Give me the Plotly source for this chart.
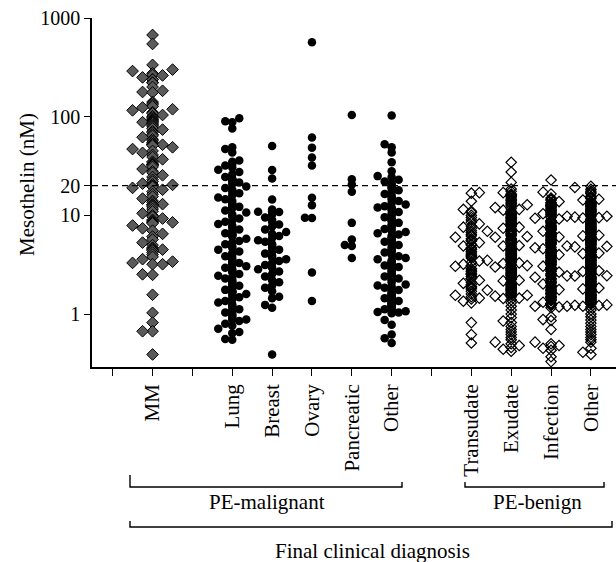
import numpy as np
import plotly.graph_objects as go

# ---------------- data ----------------
categories = ["MM", "Lung", "Breast", "Ovary", "Pancreatic", "Other",
              "Transudate", "Exudate", "Infection", "Other"]
cat_positions = [1, 3, 4, 5, 6, 7, 9, 10, 11, 12]
tick_values = list(range(13))
tick_labels = ["", "MM", "", "Lung", "Breast", "Ovary", "Pancreatic", "Other",
               "", "Transudate", "Exudate", "Infection", "Other"]
y_ticks = [1, 10, 20, 100, 1000]
cutoff = 20

mm = [673, 546, 335, 300, 290, 275, 265, 262, 250, 240, 237, 222, 220, 200, 183, 178, 176,
      141, 137, 132, 127, 124, 119, 116, 111, 108, 104, 101, 98, 95, 93, 92, 90, 88, 88, 86, 83,
      81, 79, 76, 74, 71, 69, 66, 64, 62, 59, 57, 55, 53, 52.6, 52.5, 52, 51, 49, 47, 45, 43,
      41, 39, 37, 35, 34, 33, 32.9, 32.5, 32, 31, 29.5, 28, 27, 25.5, 24.5, 23, 22, 21,
      20.6, 20.4, 20, 19.8, 19.5, 19, 18.2, 17.4, 16.4, 15.5, 14.8, 14, 13.5, 13, 12.9, 12.8,
      12.5, 12.2, 11.6, 11, 10.5, 10, 9.7, 9.3, 9, 8.8, 8.6, 8.5, 8.5, 8.3, 7.9, 7.4, 7.0, 6.5,
      6.1, 5.7, 5.3, 5.0, 4.7, 4.6, 4.5, 4.5, 4.4, 4.2, 4.0, 3.8, 3.6, 3.4, 3.3, 3.2, 3.2,
      2.53, 2.5, 1.57, 1.03, 0.82, 0.67, 0.67, 0.39]

lung = [96.6, 90, 87.7, 76, 49, 47, 43.5, 36, 35, 33, 32, 30.5, 29, 27.5, 26, 24.5, 23.5, 23,
        23, 22.8, 22.5, 21.5, 20.8, 19.6, 18.9, 18.2, 17.4, 16.8, 16, 15.2, 14.6, 14, 13.3, 12.8,
        12.5, 12.4, 12.4, 12.2, 11.8, 11.2, 10.7, 10.2, 9.8, 9.3, 8.9, 8.6, 8.2, 7.9, 7.5, 7.2,
        6.9, 6.6, 6.5, 6.4, 6.4, 6.3, 6.1, 5.8, 5.5, 5.3, 5.1, 4.9, 4.7, 4.5, 4.3, 4.15, 4.0,
        3.85, 3.7, 3.55, 3.42, 3.35, 3.3, 3.3, 3.25, 3.15, 3.05, 2.95, 2.85, 2.75, 2.65, 2.55,
        2.45, 2.38, 2.3, 2.22, 2.15, 2.08, 2.0, 1.94, 1.88, 1.82, 1.76, 1.7, 1.68, 1.68, 1.65,
        1.6, 1.54, 1.48, 1.42, 1.36, 1.31, 1.26, 1.21, 1.16, 1.12, 1.08, 1.04, 1.0, 0.97, 0.94,
        0.9, 0.88, 0.88, 0.85, 0.8, 0.76, 0.71, 0.66, 0.64, 0.56, 0.55]

breast = [50.5, 28.8, 23.7, 14.5, 11.5, 11.0, 10.9, 10.8, 10.2, 9.5, 9.0, 8.6, 8.1, 7.7, 7.2,
          6.8, 6.5, 6.2, 5.9, 5.6, 5.4, 5.1, 5.0, 4.7, 4.5, 4.3, 4.1, 3.9, 3.75, 3.6, 3.45,
          3.3, 3.15, 2.95, 2.85, 2.7, 2.55, 2.4, 2.2, 2.1, 1.95, 1.85, 1.7, 1.5, 1.45, 1.24,
          1.16, 0.39]

ovary = [568, 61.5, 48.6, 38.5, 32, 15.1, 12.7, 9.46, 9.4, 2.64, 1.36]

pancreatic = [104, 23.2, 20.6, 17.4, 8.4, 5.7, 5.0, 4.9, 3.7]

other_malignant = [103, 52.5, 49, 43.5, 34.5, 28, 25, 24.4, 23, 22, 21, 20, 19.3, 18.6, 18,
                   17.2, 16.5, 15.8, 15.2, 14.6, 14, 13.4, 12.9, 12.4, 12, 12, 11.6, 11.2,
                   10.8, 10.4, 10, 9.6, 9.3, 9.0, 8.7, 8.4, 8.1, 7.8, 7.5, 7.3, 7.0, 6.8, 6.6,
                   6.4, 6.2, 6.0, 5.8, 5.6, 5.4, 5.3, 5.2, 5.0, 4.8, 4.6, 4.4, 4.3, 4.2, 4.0,
                   3.85, 3.7, 3.6, 3.5, 3.4, 3.3, 3.2, 3.1, 3.0, 2.9, 2.8, 2.7, 2.6, 2.5, 2.45,
                   2.4, 2.3, 2.2, 2.1, 2.0, 1.95, 1.9, 1.85, 1.8, 1.75, 1.7, 1.65, 1.6, 1.57,
                   1.55, 1.5, 1.47, 1.45, 1.4, 1.38, 1.36, 1.32, 1.3, 1.28, 1.24, 1.22, 1.2,
                   1.17, 1.14, 1.12, 1.1, 1.07, 1.05, 1.04, 1.02, 0.87, 0.78, 0.62, 0.57, 0.51]

transudate = [17, 16.8, 13.9, 11.5, 11, 10.7, 10, 9.5, 9, 8.5, 8.2, 7.8, 7.4, 7, 6.7, 6.4, 6.0,
              5.8, 5.5, 5.3, 5.1, 4.9, 4.7, 4.5, 4.3, 4.0, 3.9, 3.7, 3.5, 3.35, 3.2, 3.05,
              2.9, 2.7, 2.6, 2.5, 2.4, 2.3, 2.2, 2.1, 2.0, 1.85, 1.8, 1.7, 1.6, 1.5, 1.42,
              1.35, 1.3, 0.82, 0.62, 0.51,
              7.6, 6.9, 6.2, 5.6, 5.0, 4.55, 4.15, 3.8, 3.45, 3.1, 2.8, 2.55, 2.3, 2.05, 1.9,
              1.75, 1.55, 1.45]

exudate = [34.5, 27.5, 21.6, 18.5, 17.5, 17, 16.5, 16, 15.5, 15, 14.5, 14, 13.5, 13, 12.5, 12,
           11.7, 11.3, 11, 10.7, 10.4, 10.1, 9.8, 9.5, 9.2, 9, 8.7, 8.5, 8.2, 8, 7.8, 7.6, 7.4,
           7.2, 7, 6.8, 6.6, 6.4, 6.2, 6.0, 5.85, 5.7, 5.55, 5.4, 5.25, 5.1, 4.95, 4.8, 4.65,
           4.5, 4.4, 4.3, 4.2, 4.1, 4.0, 3.9, 3.8, 3.7, 3.6, 3.5, 3.4, 3.3, 3.2, 3.1, 3.0,
           2.92, 2.84, 2.76, 2.68, 2.6, 2.52, 2.45, 2.38, 2.31, 2.24, 2.17, 2.1, 2.04, 1.98,
           1.92, 1.86, 1.8, 1.75, 1.7, 1.65, 1.6, 1.55, 1.5, 1.45, 1.4, 1.3, 1.2, 1.1, 1.0,
           0.92, 0.85, 0.82, 0.75, 0.7, 0.66, 0.62, 0.58, 0.55, 0.52, 0.5, 0.48, 0.46, 0.44,
           0.42,
           15.8, 14.2, 12.8, 11.5, 10.2, 9.6, 8.9, 8.3, 7.7, 7.3, 6.9, 6.5, 6.1, 5.8, 5.5, 5.2,
           4.9, 4.6, 4.35, 4.15, 3.95, 3.75, 3.55, 3.35, 3.15, 2.96, 2.8, 2.64, 2.48, 2.34,
           2.2, 2.07, 1.95, 1.83, 1.72, 1.62, 1.52, 1.44, 16.2, 13.2, 10.9, 9.3, 8.1, 7.1,
           6.3, 5.6, 5.0, 4.45, 4.05, 3.65, 3.25, 2.88, 2.56, 2.27, 2.0, 1.78, 1.58]

infection = [22.8, 17.2, 16.5, 15.0, 14.6, 14.2, 13.8, 13.3, 12.9, 12.5, 12.1, 11.7, 11.4, 11.0,
             10.7, 10.4, 10.1, 9.8, 9.5, 9.2, 8.9, 8.7, 8.4, 8.2, 7.9, 7.7, 7.5, 7.3, 7.1, 6.9,
             6.7, 6.5, 6.3, 6.1, 5.95, 5.8, 5.65, 5.5, 5.35, 5.2, 5.05, 4.9, 4.75, 4.6, 4.5,
             4.4, 4.3, 4.2, 4.1, 4.0, 3.9, 3.8, 3.7, 3.6, 3.5, 3.4, 3.3, 3.22, 3.14, 3.06,
             2.98, 2.9, 2.82, 2.74, 2.66, 2.58, 2.5, 2.43, 2.36, 2.29, 2.22, 2.15, 2.08, 2.02,
             1.96, 1.9, 1.84, 1.78, 1.72, 1.67, 1.62, 1.57, 1.52, 1.47, 1.42, 1.37, 1.32,
             1.28, 1.24, 1.2, 1.2, 1.18, 1.16, 0.94, 0.88, 0.86, 0.7, 0.52, 0.5, 0.48, 0.47,
             0.45, 0.43, 0.37, 0.33,
             13.5, 12.3, 11.2, 10.2, 9.35, 8.55, 7.8, 7.2, 6.6, 6.05, 5.6, 5.15, 4.7, 4.35,
             4.05, 3.75, 3.45, 3.18, 2.94, 2.7, 2.48, 2.28, 2.1, 1.93, 1.77, 1.63, 1.5, 1.39,
             1.29, 1.22, 12.7, 10.5, 8.8, 7.4, 6.2, 5.3, 4.55, 3.95, 3.35, 2.86, 2.44, 2.06,
             1.74, 1.47, 1.26]

other_benign = [19.7, 19.2, 18.4, 17.6, 17.0, 16.6, 15.6, 15.2, 14.8, 14.3, 13.9, 13.6, 13.2,
                12.9, 12.5, 12.2, 11.9, 11.6, 11.3, 11.0, 10.8, 10.5, 10.3, 10.0, 9.8, 9.6, 9.4,
                9.2, 9.0, 8.8, 8.6, 8.4, 8.2, 8.0, 7.85, 7.7, 7.55, 7.4, 7.25, 7.1, 6.95, 6.8,
                6.65, 6.5, 6.35, 6.2, 6.1, 6.0, 5.9, 5.8, 5.7, 5.6, 5.5, 5.4, 5.3, 5.2, 5.1,
                5.0, 4.9, 4.8, 4.7, 4.6, 4.5, 4.42, 4.34, 4.26, 4.18, 4.1, 4.02, 3.94, 3.86,
                3.78, 3.7, 3.62, 3.55, 3.48, 3.41, 3.34, 3.27, 3.2, 3.14, 3.08, 3.02, 2.96, 2.9,
                2.84, 2.78, 2.72, 2.66, 2.6, 2.55, 2.5, 2.45, 2.4, 2.35, 2.3, 2.25, 2.2, 2.15,
                2.1, 2.05, 2.0, 1.96, 1.92, 1.88, 1.84, 1.8, 1.76, 1.72, 1.68, 1.65, 1.62, 1.59,
                1.56, 1.53, 1.5, 1.47, 1.44, 1.41, 1.38, 1.35, 1.32, 1.3, 1.28, 1.26, 1.24,
                1.22, 1.2, 1.18, 1.1, 1.0, 0.94, 0.87, 0.81, 0.75, 0.7, 0.66, 0.62, 0.58, 0.55,
                0.52, 0.45, 0.41, 0.39,
                14.6, 13.4, 12.4, 11.4, 10.6, 9.7, 8.9, 8.1, 7.5, 6.9, 6.4, 5.95, 5.55, 5.15,
                4.85, 4.55, 4.22, 3.98, 3.74, 3.5, 3.3, 3.1, 2.92, 2.75, 2.58, 2.43, 2.28, 2.14,
                2.02, 1.9, 1.78, 1.67, 1.57, 1.48, 1.39, 1.31, 1.23, 13.0, 11.1, 9.5, 8.3, 7.2,
                6.3, 5.45, 4.75, 4.15, 3.6, 3.15, 2.7, 2.35, 2.05, 1.8, 1.55, 1.35]

groups = [mm, lung, breast, ovary, pancreatic, other_malignant,
          transudate, exudate, infection, other_benign]
group_kind = ["mm", "mal", "mal", "mal", "mal", "mal", "ben", "ben", "ben", "ben"]

# ---------------- layout geometry ----------------
W, H = 616, 562
ML, MR, MT, MB = 92, 0, 18, 195
x_range = [-0.52, 12.63]
y_range = [-0.536, 3.0]  # log10 units
plot_w = W - ML - MR
plot_h = H - MT - MB
px_per_x = plot_w / (x_range[1] - x_range[0])
px_per_dec = plot_h / (y_range[1] - y_range[0])

styles = {
    "mm": dict(symbol="diamond", size=9, color="#5a5a5a", line=dict(color="black", width=1),
               step=10, diam=11, spacing={0: 0.5, 1: 1.3, 2: 3.4}),
    "mal": dict(symbol="circle", size=8.5, color="black", line=dict(color="black", width=0),
                step=7, diam=8, spacing={0: 0.6, 1: 1.3, 2: 3.2}),
    "ben": dict(symbol="diamond-open", size=8, color="black",
                line=dict(color="black", width=1.2), step=8, diam=9,
                spacing={0: 0.25, 1: 1.9, 2: 3.2}),
}


def beeswarm(values, diam, step, spacing):
    """Greedy column layout in pixel space; overflow goes to the centre column.
    Returns x offsets in axis units."""
    vals = np.asarray(values, dtype=float)
    ypx = np.log10(vals) * px_per_dec
    order = np.argsort(vals, kind="stable")
    slots = [0, -1, 1, -2, 2]
    last = {s: -1e9 for s in slots}
    offs = np.zeros(len(vals))
    for i in order:
        y = ypx[i]
        chosen = 0
        for s in slots:
            if y - last[s] >= spacing[abs(s)] * diam:
                chosen = s
                break
        last[chosen] = y
        offs[i] = chosen * step / px_per_x
    return offs


fig = go.Figure()
for vals, pos, kind, name in zip(groups, cat_positions, group_kind, categories):
    st = styles[kind]
    offs = beeswarm(vals, st["diam"], st["step"], st["spacing"])
    fig.add_trace(go.Scatter(
        x=pos + offs, y=vals, mode="markers", name=name, showlegend=False,
        marker=dict(symbol=st["symbol"], size=st["size"], color=st["color"], line=st["line"]),
        hoverinfo="y",
    ))

font_family = "Liberation Serif"
fig.update_layout(
    width=W, height=H,
    margin=dict(l=ML, r=MR, t=MT, b=MB),
    paper_bgcolor="white", plot_bgcolor="white",
    font=dict(family=font_family, size=21, color="black"),
    xaxis=dict(range=x_range, tickmode="array", tickvals=tick_values, ticktext=tick_labels,
               tickangle=-90, ticks="outside", ticklen=7, tickwidth=1.3, tickcolor="black",
               showline=True, linecolor="black", linewidth=1.5, showgrid=False,
               zeroline=False, tickfont=dict(size=21, family=font_family)),
    yaxis=dict(type="log", range=y_range, tickmode="array", tickvals=y_ticks,
               ticktext=[str(t) for t in y_ticks], ticks="outside", ticklen=6, tickwidth=1.3,
               tickcolor="black", showline=True, linecolor="black", linewidth=1.5,
               showgrid=False, zeroline=False, tickfont=dict(size=20, family=font_family)),
)

# dashed cut-off line
fig.add_shape(type="line", xref="paper", yref="y", x0=0, x1=1, y0=cutoff, y1=cutoff,
              line=dict(color="black", width=1.2, dash="6px,4px"))


def yp(pix):
    return (H - MB - pix) / plot_h


def xd(pix):
    return x_range[0] + (pix - ML) / px_per_x


def bracket(xl, xr, yline, ytl, ytr):
    fig.add_shape(type="path", xref="x", yref="paper",
                  path=f"M {xl},{ytl} L {xl},{yline} L {xr},{yline} L {xr},{ytr}",
                  line=dict(color="black", width=1.4))


bracket(xd(130), xd(402), yp(487), yp(475), yp(482))
bracket(xd(465), xd(604), yp(487), yp(482), yp(482))
bracket(xd(130), xd(612), yp(527), yp(521), yp(521))

for text, xp, ypix in [("PE-malignant", 267, 502), ("PE-benign", 537, 502),
                       ("Final clinical diagnosis", 372, 551)]:
    fig.add_annotation(text=text, xref="x", yref="paper", x=xd(xp), y=yp(ypix),
                       showarrow=False, xanchor="center", yanchor="middle",
                       font=dict(size=21, family=font_family))

fig.add_annotation(text="Mesothelin (nM)", xref="paper", yref="paper",
                   x=(27 - ML) / plot_w, y=yp(185), textangle=-90, showarrow=False,
                   xanchor="center", yanchor="middle", font=dict(size=21, family=font_family))

fig.write_html("out.html", config={"displayModeBar": False},
               post_script="document.body.style.margin='0';document.body.style.padding='0';"
                           "document.body.style.overflow='hidden';")
